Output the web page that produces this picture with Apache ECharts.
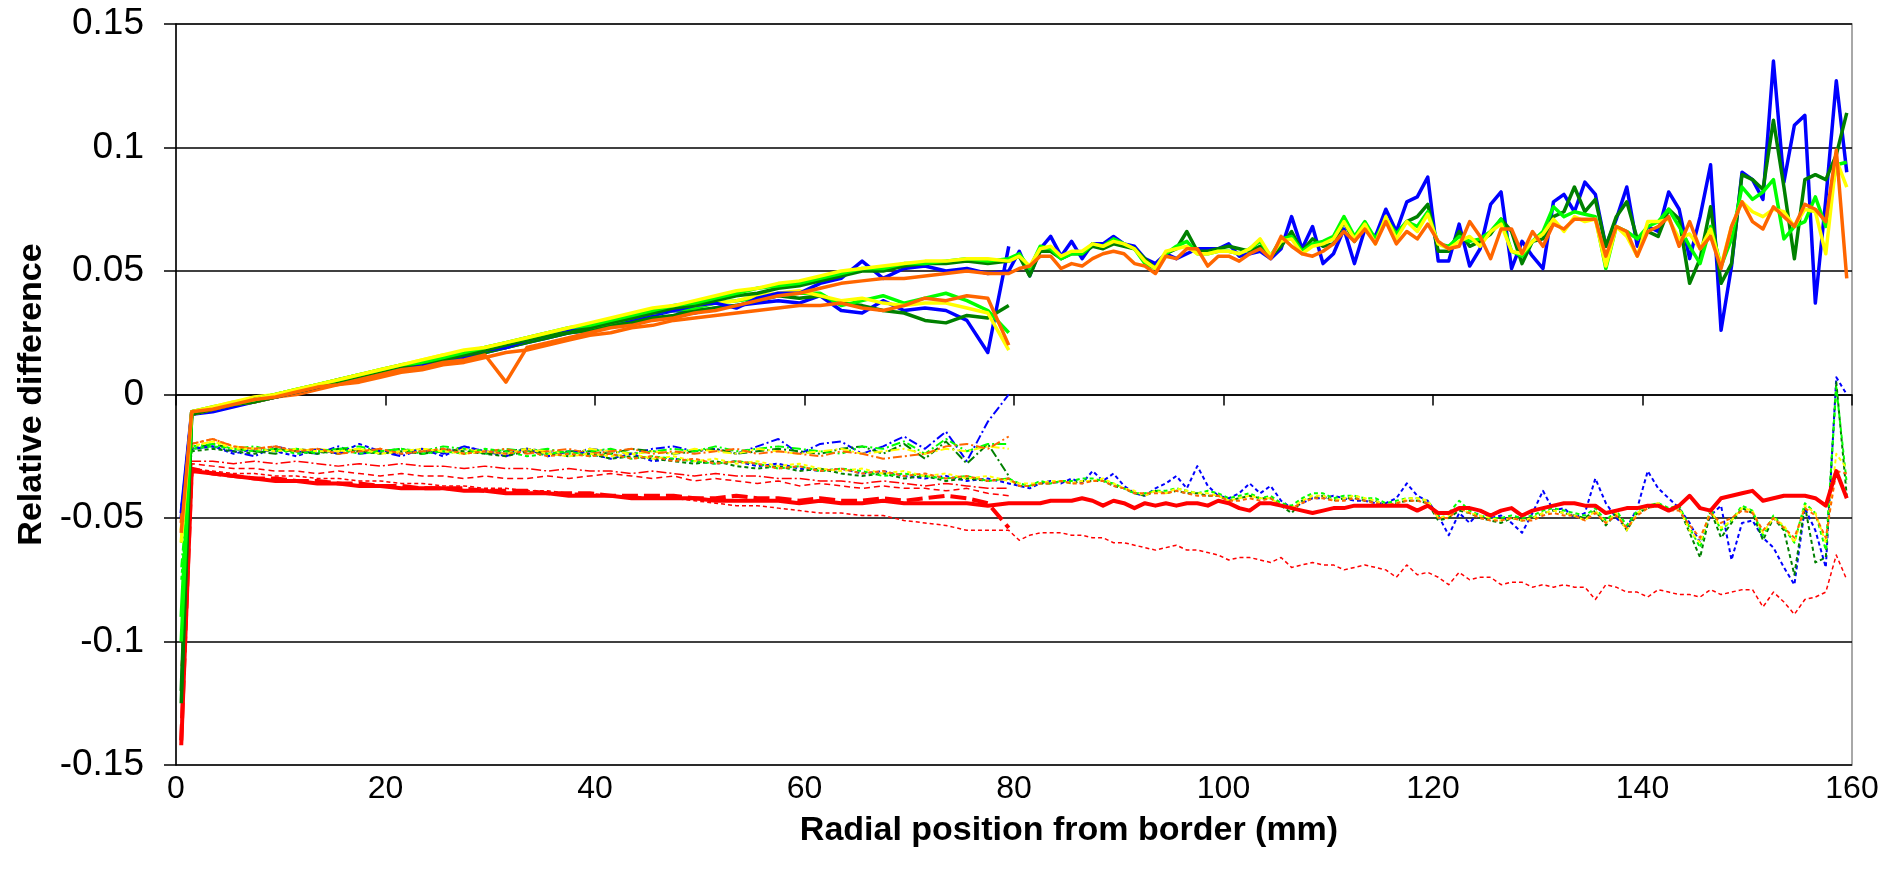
<!DOCTYPE html>
<html>
<head>
<meta charset="utf-8">
<script src="https://cdn.jsdelivr.net/npm/echarts@6/dist/echarts.min.js"></script>
<style>
  html, body { margin: 0; padding: 0; background: #fff; }
  #main { width: 1889px; height: 882px; }
</style>
</head>
<body>
<div id="main"></div>
<script>
// radial positions (mm): 2 mm steps up to 80, 1 mm steps after
var posA = [0.5,1.5,3.5,5.5,7.5,9.5,11.5,13.5,15.5,17.5,19.5,21.5,23.5,25.5,27.5,29.5,31.5,33.5,35.5,37.5,
  39.5,41.5,43.5,45.5,47.5,49.5,51.5,53.5,55.5,57.5,59.5,61.5,63.5,65.5,67.5,69.5,71.5,73.5,75.5,77.5,79.5];
var posB = posA.concat([80.5,81.5,82.5,83.5,84.5,85.5,86.5,87.5,88.5,89.5,90.5,91.5,92.5,93.5,94.5,95.5,96.5,97.5,98.5,99.5,
  100.5,101.5,102.5,103.5,104.5,105.5,106.5,107.5,108.5,109.5,110.5,111.5,112.5,113.5,114.5,115.5,116.5,117.5,118.5,119.5,
  120.5,121.5,122.5,123.5,124.5,125.5,126.5,127.5,128.5,129.5,130.5,131.5,132.5,133.5,134.5,135.5,136.5,137.5,138.5,139.5,
  140.5,141.5,142.5,143.5,144.5,145.5,146.5,147.5,148.5,149.5,150.5,151.5,152.5,153.5,154.5,155.5,156.5,157.5,158.5,159.5]);

// relative difference, in thousandths
// upper band, full length (solid)
var topBlueB = [-48,-7,-6,-4,-2,-1,1,3,6,7, 9,11,12,14,16,18,19,22,24,26, 27,30,31,33,34,36,37,35,39,41, 41,45,47,54,47,51,52,50,51,49, 50,
  58,48,59,64,56,62,55,61,61,64, 61,60,55,53,57,55,57,59,59,59, 61,56,57,58,55,59,72,59,68,53, 57,67,53,67,64,75,66,78,80,88,
  54,54,69,52,59,77,82,51,62,56, 51,78,81,74,86,81,60,71,84,60, 68,66,82,75,55,72,93,26,52,90, 87,79,135,86,109,113,37,79,127,90];
var topDkGreenB = [-125,-8,-6,-4,-3,-1,1,3,5,7, 9,11,13,14,16,18,20,22,24,25, 27,29,31,33,35,36,38,40,41,43, 44,46,48,50,50,52,53,53,54,53, 54,
  56,48,58,58,55,57,57,60,59,61, 60,59,55,51,57,59,66,58,58,59, 60,59,58,60,56,60,66,58,63,60, 61,70,62,68,62,71,65,70,72,77,
  58,58,66,60,62,65,71,66,53,62, 63,72,74,84,74,79,60,72,78,63, 66,64,75,71,45,55,76,45,53,89, 87,83,111,84,55,87,89,87,97,114];
var topLimeB = [-100,-7,-5,-4,-2,0,2,4,6,8, 10,12,13,15,17,19,21,23,25,27, 28,30,32,34,36,37,39,41,43,44, 45,47,49,51,51,53,53,54,55,54, 55,
  57,51,60,59,55,57,57,61,60,63, 61,59,53,51,57,60,62,57,57,58, 58,57,59,62,56,63,64,58,61,62, 64,72,64,70,63,71,65,70,68,74,
  61,60,64,62,63,66,71,58,56,62, 66,76,72,74,73,72,51,68,66,63, 68,70,75,68,60,53,68,52,63,84, 79,82,87,63,68,70,80,68,93,94];
var topYellowB = [-60,-7,-5,-3,-2,0,2,4,6,8, 10,12,14,16,18,19,21,23,25,27, 29,31,33,35,36,38,40,42,43,45, 46,48,50,51,52,53,54,54,55,55, 54,
  56,52,59,60,56,58,58,61,60,62, 61,59,54,51,58,59,60,57,57,58, 58,57,59,63,56,62,63,57,60,61, 63,70,63,69,61,72,63,70,66,73,
  61,59,62,64,60,66,69,58,57,62, 65,71,66,72,70,71,52,68,64,56, 70,70,71,63,65,59,67,52,68,78, 74,72,75,74,68,75,74,57,95,84];
var topOrangeB = [-56,-7,-6,-4,-2,-1,1,3,4,6, 8,10,11,13,14,16,5,19,21,23, 25,27,28,30,31,33,34,36,38,40, 41,43,45,46,47,47,48,49,50,49, 49,
  51,52,56,56,51,53,52,55,57,58, 57,53,52,49,56,55,59,59,52,56, 56,54,57,59,55,64,60,57,56,58, 61,66,62,67,61,70,61,66,63,69,
  62,59,60,70,64,55,67,67,57,66, 60,69,67,71,71,71,56,68,66,56, 66,68,72,60,70,59,64,51,68,78, 70,67,76,72,68,77,75,70,99,47];

// upper band, half length (solid)
var topBlueA = [-50,-8,-7,-5,-3,-1,1,3,5,7, 9,10,12,14,15,17,19,21,23,25, 26,29,30,32,34,33,35,36,37,38, 37,40,34,33,38,34,35,34,30,17, 60];
var topDkGreenA = [-120,-8,-6,-4,-3,-1,1,3,5,7, 9,10,12,14,16,17,19,21,23,25, 26,28,29,31,32,34,35,36,38,40, 39,40,37,36,34,33,30,29,32,31, 36];
var topLimeA = [-90,-7,-6,-4,-2,0,2,4,6,8, 9,11,13,15,17,18,20,22,24,26, 27,29,31,33,34,35,37,38,39,40, 41,41,36,38,40,37,39,41,38,34, 25];
var topYellowA = [-55,-7,-5,-3,-1,0,2,4,6,8, 10,12,14,16,17,19,21,23,25,26, 28,30,32,33,35,36,37,38,40,41, 42,40,38,39,37,36,37,37,35,33, 18];
var topOrangeA = [-52,-8,-6,-4,-3,-1,0,2,4,5, 7,9,10,12,13,15,17,18,20,22, 24,25,27,28,30,31,32,33,34,35, 36,36,37,35,34,36,39,38,40,39, 20];

// lower band, full length (dashed)
var lowBlueB = [-45,-22,-21,-24,-22,-23,-25,-22,-24,-20, -23,-24,-22,-25,-21,-23,-24,-22,-25,-23, -24,-26,-24,-27,-26,-27,-28,-27,-29,-28, -30,-31,-30,-32,-31,-33,-34,-33,-35,-34, -36,
  -37,-38,-36,-35,-36,-34,-36,-31,-35,-32, -37,-40,-41,-38,-36,-33,-38,-29,-37,-41, -42,-40,-36,-40,-37,-43,-46,-44,-42,-42, -41,-42,-43,-43,-44,-44,-42,-36,-41,-43,
  -49,-57,-48,-52,-47,-50,-49,-52,-56,-48, -39,-47,-46,-50,-48,-34,-44,-50,-54,-46, -31,-38,-42,-46,-52,-60,-49,-45,-67,-52, -51,-58,-62,-70,-77,-46,-55,-70,7,0];
var lowDkGreenB = [-60,-23,-22,-23,-24,-22,-23,-24,-22,-23, -24,-23,-24,-22,-23,-24,-25,-23,-24,-25, -24,-26,-25,-26,-27,-28,-27,-29,-30,-29, -31,-30,-32,-33,-32,-34,-33,-35,-34,-35, -34,
  -37,-37,-36,-36,-35,-36,-35,-35,-35,-37, -38,-40,-41,-39,-40,-39,-40,-40,-41,-41, -43,-42,-41,-42,-42,-45,-48,-43,-42,-41, -43,-42,-42,-43,-43,-45,-44,-43,-43,-44,
  -51,-50,-47,-48,-50,-51,-52,-50,-51,-50, -48,-47,-48,-49,-50,-47,-53,-48,-55,-48, -46,-44,-47,-46,-56,-66,-47,-58,-52,-46, -48,-59,-50,-55,-73,-45,-68,-66,5,-41];
var lowLimeB = [-75,-22,-21,-22,-23,-22,-24,-23,-22,-24, -23,-22,-24,-23,-24,-22,-23,-25,-24,-23, -25,-24,-26,-25,-26,-27,-28,-27,-28,-30, -29,-31,-30,-31,-33,-32,-33,-34,-33,-35, -34,
  -36,-37,-35,-36,-35,-35,-34,-34,-35,-36, -38,-40,-40,-39,-39,-38,-39,-40,-39,-40, -42,-41,-40,-42,-41,-44,-45,-42,-40,-40, -42,-41,-41,-42,-42,-44,-43,-42,-42,-43,
  -49,-48,-43,-47,-49,-50,-50,-49,-50,-49, -47,-46,-47,-48,-49,-46,-51,-47,-53,-47, -45,-44,-46,-45,-54,-62,-46,-55,-51,-45, -47,-57,-49,-54,-60,-44,-48,-63,3,-36];
var lowYellowB = [-50,-21,-19,-22,-22,-23,-22,-23,-23,-22, -24,-23,-22,-23,-24,-23,-24,-22,-24,-25, -24,-25,-24,-26,-25,-27,-26,-28,-27,-29, -28,-30,-31,-30,-32,-31,-33,-32,-34,-33, -35,
  -36,-36,-36,-35,-35,-36,-35,-35,-34,-36, -38,-39,-41,-39,-40,-38,-39,-40,-40,-41, -43,-42,-41,-42,-42,-45,-46,-43,-41,-41, -43,-42,-41,-42,-43,-45,-44,-42,-42,-43,
  -50,-49,-46,-48,-49,-50,-51,-50,-51,-50, -48,-47,-48,-49,-51,-47,-52,-48,-55,-48, -45,-44,-47,-46,-55,-60,-47,-54,-51,-46, -47,-56,-50,-53,-60,-45,-48,-60,-24,-30];
var lowOrangeB = [-56,-20,-18,-21,-22,-21,-23,-22,-24,-23, -22,-24,-23,-22,-24,-23,-24,-23,-25,-24, -25,-24,-26,-25,-27,-26,-28,-27,-28,-30, -29,-31,-30,-32,-31,-33,-32,-34,-33,-35, -34,
  -37,-37,-36,-36,-35,-36,-36,-35,-35,-37, -38,-40,-40,-40,-40,-39,-40,-41,-41,-41, -43,-43,-42,-43,-42,-45,-46,-44,-42,-42, -43,-43,-42,-43,-44,-45,-44,-43,-43,-44,
  -50,-50,-46,-48,-50,-51,-51,-50,-51,-51, -49,-48,-49,-49,-51,-48,-52,-49,-54,-49, -46,-45,-47,-47,-53,-58,-48,-52,-50,-47, -48,-55,-50,-54,-58,-46,-49,-58,-31,-32];

// lower band, half length (dash-dot)
var lowBlueA = [-48,-22,-21,-23,-25,-21,-23,-24,-21,-24, -23,-25,-22,-24,-21,-23,-25,-22,-23,-24, -22,-23,-24,-22,-21,-23,-22,-24,-21,-18, -24,-20,-19,-24,-21,-17,-22,-15,-27,-11, 0];
var lowDkGreenA = [-52,-22,-20,-22,-23,-24,-22,-23,-24,-22, -23,-22,-24,-23,-22,-24,-23,-22,-24,-23, -23,-24,-22,-23,-24,-23,-22,-24,-23,-22, -23,-24,-22,-21,-24,-20,-26,-19,-28,-20, -33];
var lowLimeA = [-70,-21,-20,-22,-21,-23,-22,-24,-22,-21, -23,-22,-23,-21,-22,-24,-22,-23,-22,-24, -23,-22,-24,-23,-22,-23,-21,-23,-22,-21, -22,-23,-24,-21,-22,-19,-24,-18,-23,-20, -20];
var lowYellowA = [-58,-21,-19,-21,-22,-22,-23,-22,-23,-22, -24,-23,-22,-23,-22,-23,-24,-22,-23,-24, -22,-23,-24,-23,-24,-22,-23,-24,-22,-23, -24,-23,-22,-24,-23,-22,-24,-22,-23,-21, -22];
var lowOrangeA = [-55,-20,-18,-21,-22,-21,-23,-22,-24,-23, -22,-24,-23,-22,-24,-23,-22,-24,-23,-22, -24,-23,-22,-24,-23,-24,-23,-22,-24,-23, -24,-25,-23,-24,-26,-25,-24,-21,-20,-22, -17];

// red curves
var redSolidB = [-142,-31,-32,-33,-34,-35,-35,-36,-36,-37, -37,-38,-38,-38,-39,-39,-40,-40,-40,-41, -41,-41,-42,-42,-42,-42,-43,-43,-43,-43, -44,-43,-44,-44,-43,-44,-44,-44,-44,-45, -44,
  -44,-44,-44,-43,-43,-43,-42,-43,-45,-43, -44,-46,-44,-45,-44,-45,-44,-44,-45,-43, -44,-46,-47,-44,-44,-45,-46,-47,-48,-47, -46,-46,-45,-45,-45,-45,-45,-45,-47,-45,
  -48,-48,-46,-46,-47,-49,-47,-46,-49,-47, -46,-45,-44,-44,-45,-45,-48,-47,-46,-46, -45,-45,-47,-45,-41,-46,-47,-42,-41,-40, -39,-43,-42,-41,-41,-41,-42,-45,-31,-42];
var redDotB = [-135,-30,-31,-32,-32,-33,-33,-34,-34,-35, -35,-36,-36,-37,-37,-38,-38,-39,-39,-40, -40,-41,-41,-42,-42,-43,-44,-45,-45,-46, -47,-48,-48,-49,-49,-51,-52,-53,-55,-55, -55,
  -59,-57,-56,-56,-56,-57,-57,-58,-58,-60, -60,-61,-62,-63,-62,-61,-63,-63,-64,-65, -67,-66,-66,-67,-68,-66,-70,-69,-68,-69, -69,-71,-70,-69,-70,-71,-74,-69,-73,-72,
  -74,-77,-72,-75,-74,-74,-77,-76,-76,-78, -77,-78,-77,-78,-78,-83,-77,-78,-80,-80, -82,-79,-80,-81,-81,-82,-79,-81,-80,-79, -79,-86,-80,-84,-89,-83,-82,-80,-65,-75];
var redDashA = [-140,-30,-32,-33,-34,-34,-35,-35,-36,-36, -37,-37,-38,-38,-38,-39,-39,-39,-40,-40, -40,-41,-41,-41,-41,-42,-42,-41,-42,-42, -43,-42,-43,-43,-42,-43,-42,-41,-42,-44, -54];
var redThinDashA = [-110,-28,-29,-30,-30,-31,-31,-32,-31,-32, -33,-32,-33,-33,-34,-33,-34,-34,-33,-34, -33,-32,-33,-34,-33,-35,-34,-35,-36,-35, -37,-36,-37,-38,-37,-38,-38,-39,-38,-40, -41];
var redDashDotA = [-100,-27,-27,-28,-27,-28,-27,-28,-29,-28, -29,-28,-29,-29,-30,-29,-30,-30,-31,-30, -31,-31,-32,-31,-32,-33,-32,-33,-33,-34, -34,-35,-35,-36,-35,-36,-37,-36,-37,-38, -38];

var BLUE = '#0000ff', DKGREEN = '#008000', LIME = '#00ff00', YELLOW = '#ffff00', ORANGE = '#ff6600', RED = '#ff0000';

function line(name, xs, vals, color, width, dash) {
    return {
        name: name,
        type: 'line',
        showSymbol: false,
        symbol: 'none',
        animation: false,
        data: xs.map(function (x, i) { return [x, vals[i] / 1000]; }),
        lineStyle: { color: color, width: width, type: dash || 'solid', cap: 'butt', join: 'round' }
    };
}

var dd = [9, 3, 2, 3];
var series = [
    line('blue dd A', posA, lowBlueA, BLUE, 2, dd),
    line('dkgreen dd A', posA, lowDkGreenA, DKGREEN, 2, dd),
    line('lime dd A', posA, lowLimeA, LIME, 2, dd),
    line('yellow dd A', posA, lowYellowA, YELLOW, 2, dd),
    line('orange dd A', posA, lowOrangeA, ORANGE, 2, dd),
    line('blue d B', posB, lowBlueB, BLUE, 2, [4, 3]),
    line('dkgreen d B', posB, lowDkGreenB, DKGREEN, 2, [4, 3]),
    line('lime d B', posB, lowLimeB, LIME, 2, [4, 3]),
    line('yellow d B', posB, lowYellowB, YELLOW, 2, [4, 3]),
    line('orange d B', posB, lowOrangeB, ORANGE, 2, [4, 3]),
    line('red dash-dot A', posA, redDashDotA, RED, 1.5, [10, 3, 2, 3]),
    line('red thin dash A', posA, redThinDashA, RED, 1.5, [6, 4]),
    line('red dot B', posB, redDotB, RED, 1.5, [4, 3]),
    line('red dash A', posA, redDashA, RED, 4, [16, 6]),
    line('red solid B', posB, redSolidB, RED, 4),
    line('blue A', posA, topBlueA, BLUE, 3.5),
    line('dkgreen A', posA, topDkGreenA, DKGREEN, 3.5),
    line('lime A', posA, topLimeA, LIME, 3.5),
    line('yellow A', posA, topYellowA, YELLOW, 3.5),
    line('orange A', posA, topOrangeA, ORANGE, 3.5),
    line('blue B', posB, topBlueB, BLUE, 3.5),
    line('dkgreen B', posB, topDkGreenB, DKGREEN, 3.5),
    line('lime B', posB, topLimeB, LIME, 3.5),
    line('yellow B', posB, topYellowB, YELLOW, 3.5),
    line('orange B', posB, topOrangeB, ORANGE, 3.5)
];

var chart = echarts.init(document.getElementById('main'));
chart.setOption({
    backgroundColor: '#ffffff',
    animation: false,
    textStyle: { fontFamily: 'Liberation Sans, Arial, sans-serif' },
    grid: {
        left: 176, right: 37, top: 24, bottom: 117,
        show: true, borderColor: '#8c8c8c', borderWidth: 1.5, backgroundColor: 'transparent'
    },
    xAxis: {
        type: 'value',
        min: 0, max: 160, interval: 20,
        name: 'Radial position from border (mm)',
        nameLocation: 'middle',
        nameGap: 49,
        nameTextStyle: { fontSize: 34, fontWeight: 'bold', color: '#000', padding: [0, 0, 0, 110] },
        axisLine: { lineStyle: { color: '#000', width: 1.5 } },
        axisTick: { show: true, length: 11, lineStyle: { color: '#000', width: 1.5 } },
        axisLabel: { fontSize: 32, color: '#000', margin: 8 },
        splitLine: { show: false }
    },
    yAxis: {
        type: 'value',
        min: -0.15, max: 0.15, interval: 0.05,
        name: 'Relative difference',
        nameLocation: 'middle',
        nameGap: 124,
        nameTextStyle: { fontSize: 34, fontWeight: 'bold', color: '#000' },
        axisLine: { show: true, lineStyle: { color: '#000', width: 1.5 } },
        axisTick: { show: true, length: 12, lineStyle: { color: '#000', width: 1.5 } },
        axisLabel: { fontSize: 37, color: '#000', margin: 32 },
        splitLine: { show: true, lineStyle: { color: '#000', width: 1.5 } }
    },
    series: series
});
</script>
</body>
</html>
